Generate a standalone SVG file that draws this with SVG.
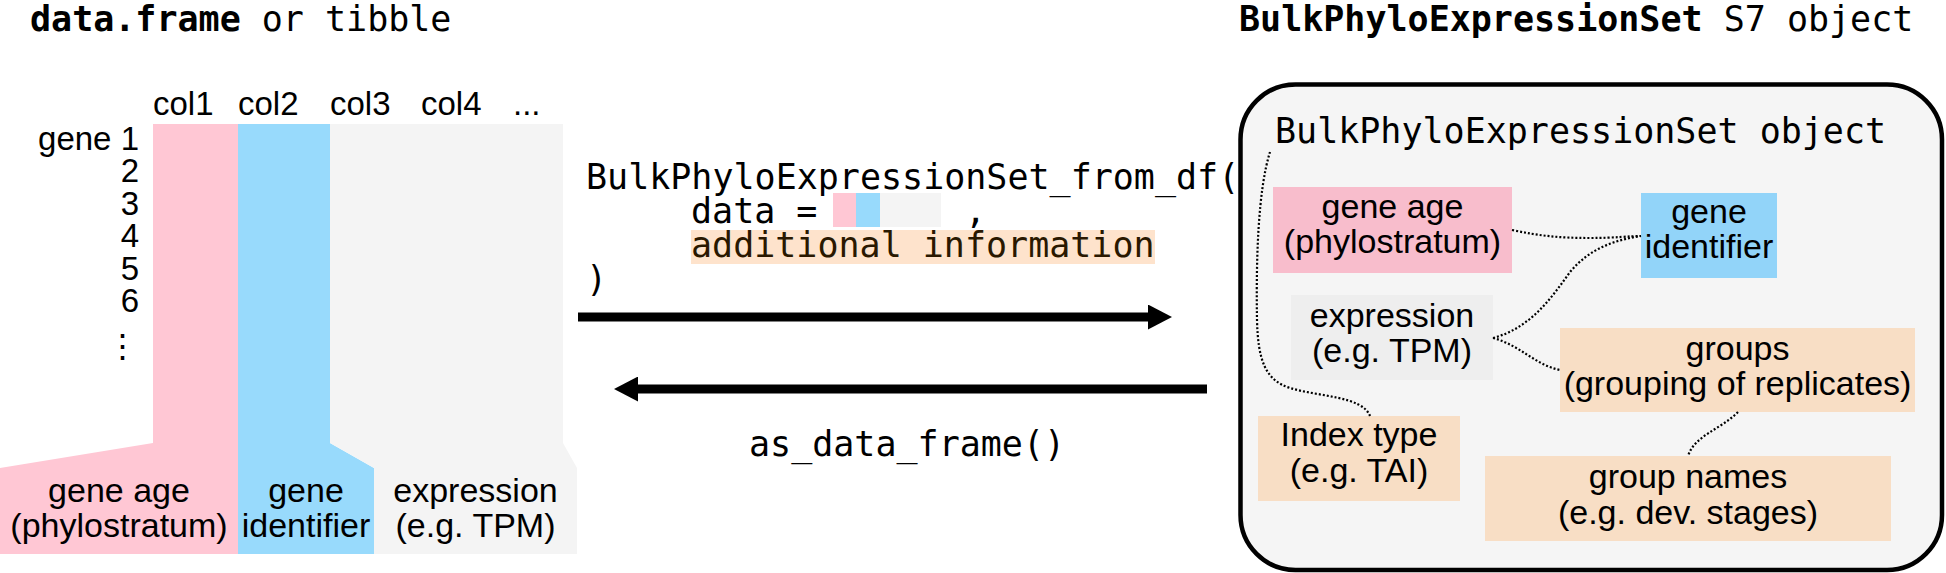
<svg xmlns="http://www.w3.org/2000/svg" width="1946" height="573" viewBox="0 0 1946 573">
<style>
.mono{font-family:"DejaVu Sans Mono","Liberation Mono",monospace;font-size:35px;fill:#000}
.b{font-weight:bold}
.sans{font-family:"Liberation Sans",Arial,sans-serif;font-size:33px;fill:#000}
.lbl{font-family:"Liberation Sans",Arial,sans-serif;font-size:34px;fill:#000;text-anchor:middle}
.dot{fill:none;stroke:#000;stroke-width:2.2;stroke-dasharray:2 2}
.arrow{stroke:#000;stroke-width:9;fill:none}
</style>
<defs>
<marker id="ah" viewBox="0 0 24 25" refX="0" refY="12.5" markerWidth="24" markerHeight="25" markerUnits="userSpaceOnUse" orient="auto">
<path d="M0,0 L24,12.5 L0,25 z" fill="#000"/>
</marker>
</defs>

<!-- titles -->
<text class="mono" x="30" y="31"><tspan class="b">data.frame</tspan> or tibble</text>
<text class="mono" x="1239" y="31"><tspan class="b">BulkPhyloExpressionSet</tspan> S7 object</text>

<!-- left table -->
<g id="table">
<g id="col-age">
<path d="M153,124 H238 V554 H0 V468 L153,443 Z" fill="#ffc7d4"/>
<text class="lbl" x="119" y="502">gene age</text>
<text class="lbl" x="119" y="537">(phylostratum)</text>
</g>
<g id="col-id">
<path d="M238,124 H330 V443 L374,468 V554 H238 Z" fill="#98dafc"/>
<text class="lbl" x="306" y="502">gene</text>
<text class="lbl" x="306" y="537">identifier</text>
</g>
<g id="col-expr">
<path d="M330,124 H563 V443 L577,468 V554 H374 V468 L330,443 Z" fill="#f4f4f4"/>
<text class="lbl" x="475.5" y="502">expression</text>
<text class="lbl" x="475.5" y="537">(e.g. TPM)</text>
</g>
<g id="headers">
<text class="sans" x="153" y="115">col1</text>
<text class="sans" x="238" y="115">col2</text>
<text class="sans" x="330" y="115">col3</text>
<text class="sans" x="421" y="115">col4</text>
<text class="sans" x="513" y="115">...</text>
</g>
<g id="rows" style="text-anchor:end">
<text class="sans" x="139" y="150">gene 1</text>
<text class="sans" x="139" y="182.4">2</text>
<text class="sans" x="139" y="214.8">3</text>
<text class="sans" x="139" y="247.2">4</text>
<text class="sans" x="139" y="279.6">5</text>
<text class="sans" x="139" y="312">6</text>
<text class="sans" x="139" y="358">⋮</text>
</g>
</g>

<!-- code -->
<g id="code-from-df">
<text class="mono" x="586" y="189">BulkPhyloExpressionSet_from_df(</text>
<text class="mono" x="691" y="223">data =</text>
<rect x="833" y="193" width="23" height="34" fill="#ffc7d4"/>
<rect x="856" y="193" width="24" height="34" fill="#98dafc"/>
<rect x="880" y="193" width="61" height="34" fill="#f4f4f4"/>
<text class="mono" x="965" y="223">,</text>
<rect x="691" y="230" width="464" height="34" fill="#fee3cc"/>
<text class="mono" x="691" y="257" style="fill:#2a1800">additional information</text>
<text class="mono" x="586" y="291">)</text>
</g>
<g id="code-as-df">
<text class="mono" x="749" y="456">as_data_frame()</text>
</g>

<!-- S7 object box -->
<g id="object">
<rect x="1240.5" y="84.5" width="701.5" height="485.5" rx="55" ry="55" fill="#f5f5f5" stroke="#000" stroke-width="4.5"/>
<text class="mono" x="1275" y="143">BulkPhyloExpressionSet object</text>
</g>
<g id="n-age">
<rect x="1273" y="187" width="239" height="86" fill="#f8bdcc"/>
<text class="lbl" x="1392.5" y="218">gene age</text>
<text class="lbl" x="1392.5" y="253">(phylostratum)</text>
</g>
<g id="n-id">
<rect x="1641" y="193" width="136" height="85" fill="#92d4f9"/>
<text class="lbl" x="1709" y="223">gene</text>
<text class="lbl" x="1709" y="258">identifier</text>
</g>
<g id="n-expr">
<rect x="1291" y="295" width="202" height="85" fill="#eeeeee"/>
<text class="lbl" x="1392" y="327">expression</text>
<text class="lbl" x="1392" y="362">(e.g. TPM)</text>
</g>
<g id="n-groups">
<rect x="1560" y="328" width="355" height="84" fill="#f8dec5"/>
<text class="lbl" x="1737.5" y="360">groups</text>
<text class="lbl" x="1737.5" y="395">(grouping of replicates)</text>
</g>
<g id="n-index">
<rect x="1258" y="416" width="202" height="85" fill="#f8dec5"/>
<text class="lbl" x="1359" y="446">Index type</text>
<text class="lbl" x="1359" y="482">(e.g. TAI)</text>
</g>
<g id="n-names">
<rect x="1485" y="456" width="406" height="85" fill="#f8dec5"/>
<text class="lbl" x="1688" y="488">group names</text>
<text class="lbl" x="1688" y="524">(e.g. dev. stages)</text>
</g>

<!-- connectors -->
<g id="connectors">
<line class="arrow" x1="578" y1="317" x2="1148" y2="317" marker-end="url(#ah)"/>
<line class="arrow" x1="1207" y1="389" x2="638" y2="389" marker-end="url(#ah)"/>
<path class="dot" d="M1270,152 C1258,190 1256,260 1257,320 C1258,360 1265,380 1290,388 C1320,397 1362,396 1370,416"/>
<path class="dot" d="M1512,230 C1540,236 1560,238 1590,238 C1615,238 1630,236 1641,236"/>
<path class="dot" d="M1493,338 C1530,328 1550,300 1570,272 C1590,248 1615,240 1641,236"/>
<path class="dot" d="M1493,338 C1520,345 1535,365 1560,370"/>
<path class="dot" d="M1738,412 C1720,430 1695,435 1688,456"/>
</g>
</svg>
